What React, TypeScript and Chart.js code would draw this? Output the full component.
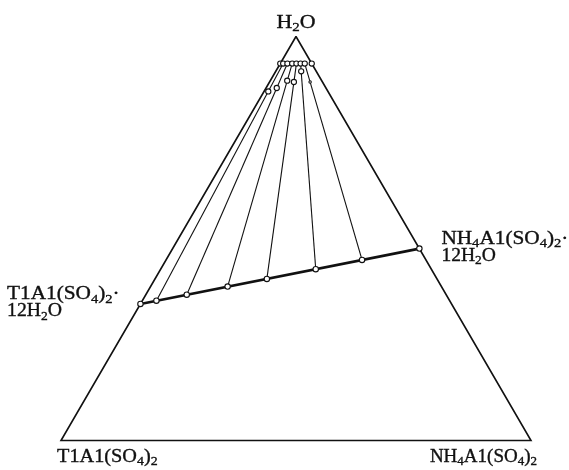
import React, { useEffect, useRef } from "react";
import { Chart, registerables } from "chart.js";

Chart.register(...registerables);

// Compositions in weight % (H2O, NH4Al(SO4)2); TlAl(SO4)2 = 100 - H2O - NH4 salt.
// Solid phases (mixed alum crystals) on the line between the two dodecahydrates
const solidH2O = [33.8, 34.6, 36.1, 38.1, 40.0, 42.4, 44.7, 47.5];
const solidNH4 = [0.0, 3.0, 8.7, 16.4, 23.8, 33.0, 41.7, 52.5];
// Saturated solutions
const solH2O = [93.3, 93.3, 93.3, 93.3, 93.3, 93.3, 93.3, 93.3];
const solNH4 = [0.0, 0.62, 1.52, 2.54, 3.44, 4.33, 5.21, 6.7];
// Wet residues for the six interior tie lines
const wetH2O = [86.4, 87.25, 89.06, 88.74, 91.39, 88.74];
const wetNH4 = [0.9, 2.28, 3.6, 5.18, 5.41, 8.63];
const wetRadius = [2.6, 2.6, 2.6, 2.6, 2.6, 1.2];

// Vertices of the diagram (H2O, NH4 salt)
const vertexH2O = [100, 0, 0];
const vertexNH4 = [0, 0, 100];

const FONT = '"Liberation Serif", "Times New Roman", serif';

function toXY(h2o: number, nh4: number) {
  return { x: nh4 + h2o / 2, y: h2o };
}

function drawRich(
  ctx: CanvasRenderingContext2D,
  str: string,
  x: number,
  y: number,
  size: number,
  align: "left" | "center" | "right",
  stretch = 1.12
) {
  const segs: { t: string; sub: boolean }[] = [];
  for (let i = 0; i < str.length; i++) {
    if (str[i] === "_" && i + 1 < str.length) {
      segs.push({ t: str[i + 1], sub: true });
      i++;
    } else {
      segs.push({ t: str[i], sub: false });
    }
  }
  const big = `${size}px ${FONT}`;
  const small = `${Math.round(size * 0.66)}px ${FONT}`;
  let total = 0;
  const widths = segs.map((s) => {
    ctx.font = s.sub ? small : big;
    const w = ctx.measureText(s.t).width;
    total += w;
    return w;
  });
  const full = total * stretch;
  const sx = align === "right" ? x - full : align === "center" ? x - full / 2 : x;
  ctx.save();
  ctx.translate(sx, y);
  ctx.scale(stretch, 1);
  ctx.fillStyle = "#111";
  ctx.strokeStyle = "#111";
  ctx.lineWidth = 0.35;
  ctx.textBaseline = "alphabetic";
  ctx.textAlign = "left";
  let cx = 0;
  segs.forEach((s, i) => {
    ctx.font = s.sub ? small : big;
    const dy = s.sub ? size * 0.2 : 0;
    ctx.fillText(s.t, cx, dy);
    ctx.strokeText(s.t, cx, dy);
    cx += widths[i];
  });
  ctx.restore();
}

const labelPlugin = {
  id: "ternaryLabels",
  afterDraw(chart: any) {
    const ctx: CanvasRenderingContext2D = chart.ctx;
    const xs = chart.scales.x;
    const ys = chart.scales.y;
    const px = (h: number, n: number) => {
      const p = toXY(h, n);
      return { x: xs.getPixelForValue(p.x), y: ys.getPixelForValue(p.y) };
    };
    const apex = px(vertexH2O[0], vertexNH4[0]);
    const bl = px(vertexH2O[1], vertexNH4[1]);
    const br = px(vertexH2O[2], vertexNH4[2]);
    const hl = px(solidH2O[0], solidNH4[0]);
    const hr = px(solidH2O[solidH2O.length - 1], solidNH4[solidNH4.length - 1]);
    const S = 19;
    ctx.save();
    drawRich(ctx, "H_2O", apex.x, apex.y - 9, S, "center", 1.15);
    drawRich(ctx, "T1A1(SO_4)_2", bl.x - 4, bl.y + 21, S, "left", 1.067);
    drawRich(ctx, "NH_4A1(SO_4)_2", br.x + 6, br.y + 21, S, "right", 1.0);
    drawRich(ctx, "T1A1(SO_4)_2·", 7, hl.y - 5, S, "left", 1.12);
    drawRich(ctx, "12H_2O", 7, hl.y + 12, S, "left", 1.04);
    drawRich(ctx, "NH_4A1(SO_4)_2·", hr.x + 22, hr.y - 5, S, "left", 1.12);
    drawRich(ctx, "12H_2O", hr.x + 22, hr.y + 12, S, "left", 1.03);
    ctx.restore();
  },
};

export default function App() {
  const ref = useRef<HTMLCanvasElement>(null);
  useEffect(() => {
    document.body.style.margin = "0";
    const canvas = ref.current!;
    const ink = "#111";

    const datasets: any[] = [];

    // points (drawn on top)
    datasets.push({
      label: "solids",
      data: solidH2O.map((h, i) => toXY(h, solidNH4[i])),
      showLine: false,
      pointRadius: 2.7,
      pointBackgroundColor: "#fff",
      pointBorderColor: ink,
      pointBorderWidth: 1.1,
      order: 0,
      clip: false,
    });
    datasets.push({
      label: "solutions",
      data: solH2O.map((h, i) => toXY(h, solNH4[i])),
      showLine: false,
      pointRadius: 2.6,
      pointBackgroundColor: "#fff",
      pointBorderColor: ink,
      pointBorderWidth: 1.1,
      order: 0,
      clip: false,
    });
    datasets.push({
      label: "wet residues",
      data: wetH2O.map((h, i) => toXY(h, wetNH4[i])),
      showLine: false,
      pointRadius: wetRadius,
      pointBackgroundColor: "#fff",
      pointBorderColor: ink,
      pointBorderWidth: 1.1,
      order: 0,
      clip: false,
    });

    // triangle
    datasets.push({
      label: "triangle",
      data: [0, 1, 2, 0].map((k) => toXY(vertexH2O[k], vertexNH4[k])),
      showLine: true,
      borderColor: ink,
      borderWidth: 1.6,
      pointRadius: 0,
      order: 2,
      clip: false,
    });

    // hydrate line (mixed crystals)
    datasets.push({
      label: "hydrates",
      data: [toXY(solidH2O[0], solidNH4[0]), toXY(solidH2O[7], solidNH4[7])],
      showLine: true,
      borderColor: ink,
      borderWidth: 2.6,
      pointRadius: 0,
      order: 1,
      clip: false,
    });

    // tie lines
    for (let i = 1; i < solidH2O.length - 1; i++) {
      datasets.push({
        label: "tie" + i,
        data: [toXY(solH2O[i], solNH4[i]), toXY(solidH2O[i], solidNH4[i])],
        showLine: true,
        borderColor: ink,
        borderWidth: 1.1,
        pointRadius: 0,
        order: 2,
        clip: false,
      });
    }

    const chart = new Chart(canvas, {
      type: "scatter",
      data: { datasets },
      options: {
        animation: false,
        responsive: false,
        maintainAspectRatio: false,
        layout: { padding: { left: 61, right: 38, top: 36.5, bottom: 29.5 } },
        scales: {
          x: { type: "linear", min: 0, max: 100, display: false },
          y: { type: "linear", min: 0, max: 100, display: false },
        },
        plugins: {
          legend: { display: false },
          tooltip: { enabled: false },
        },
      },
      plugins: [labelPlugin],
    });
    return () => chart.destroy();
  }, []);

  return (
    <div style={{ width: 569, height: 470, background: "#fff" }}>
      <canvas ref={ref} width={569} height={470} style={{ display: "block" }} />
    </div>
  );
}
